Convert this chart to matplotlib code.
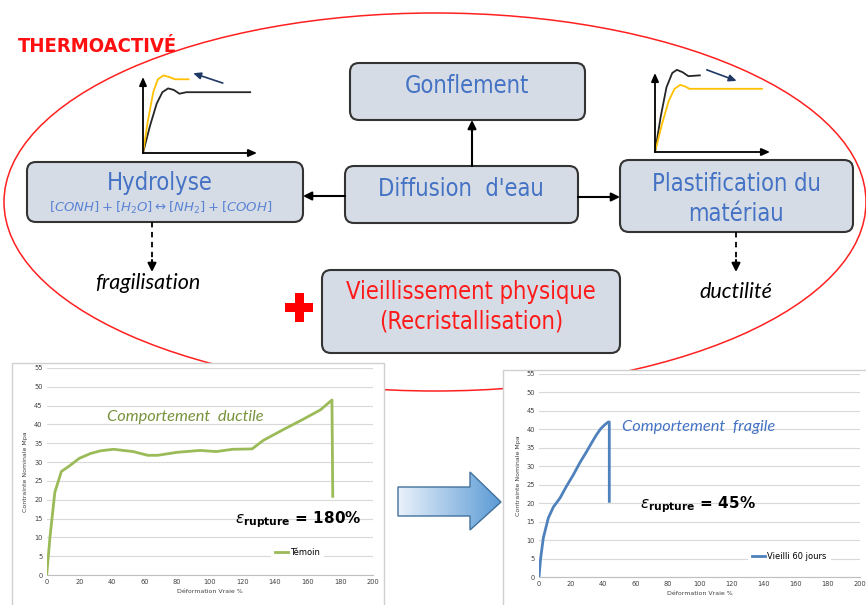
import numpy as np
import matplotlib
matplotlib.use('Agg')
import matplotlib.pyplot as plt
from matplotlib.patches import FancyBboxPatch, Ellipse, Rectangle, Polygon

# ---- data ----
# stress-strain curve, control sample (Témoin)
temoin_strain = [0, 2, 5, 9, 14, 20, 27, 33, 41, 53, 62, 68, 80, 94, 104, 114, 126, 133, 145, 157, 168, 175, 175.5]
temoin_stress = [0, 10, 22, 27.5, 29, 31, 32.3, 33, 33.4, 32.8, 31.8, 31.8, 32.6, 33.1, 32.8, 33.4, 33.5, 35.8, 38.6, 41.3, 43.9, 46.5, 20.9]

# stress-strain curve, aged 60 days
aged_strain = [0, 1, 2.7, 5.8, 9, 13.1, 17, 21.4, 25.5, 29.7, 33, 35.9, 38.5, 41.1, 43.2, 43.8, 43.8]
aged_stress = [0, 5, 10.6, 16, 19, 21.4, 24.5, 27.7, 31, 34, 36.5, 38.6, 40.2, 41.3, 42, 42, 20.5]

x_ticks = list(range(0, 201, 20))
y_ticks = list(range(0, 56, 5))

# schematic sketches (unit coordinates)
hyd_black_x = [0, 0.06, 0.12, 0.17, 0.22, 0.27, 0.32, 0.38, 0.94]
hyd_black_y = [0, 0.35, 0.65, 0.80, 0.85, 0.83, 0.78, 0.80, 0.80]
hyd_yellow_x = [0, 0.04, 0.09, 0.13, 0.18, 0.23, 0.28, 0.40]
hyd_yellow_y = [0, 0.40, 0.80, 0.97, 1.02, 1.00, 0.97, 0.97]
pla_black_x = [0, 0.05, 0.10, 0.15, 0.19, 0.24, 0.29, 0.39]
pla_black_y = [0, 0.45, 0.82, 1.00, 1.04, 1.01, 0.96, 0.97]
pla_yellow_x = [0, 0.06, 0.12, 0.17, 0.22, 0.26, 0.30, 0.93]
pla_yellow_y = [0, 0.35, 0.65, 0.80, 0.85, 0.83, 0.80, 0.80]

plt.rcParams['font.family'] = ['DejaVu Sans']
narrow = dict(family='DejaVu Sans', fontstretch='condensed')

W, H = 866, 605
fig = plt.figure(figsize=(W / 100, H / 100), dpi=100)
fig.patch.set_facecolor('white')

# base axes in pixel coords
ax = fig.add_axes([0, 0, 1, 1])
ax.set_xlim(0, W)
ax.set_ylim(H, 0)
ax.axis('off')

box_fc = '#D6DCE5'
box_ec = '#333333'
blue_txt = '#4472C4'

ax.add_patch(Ellipse((435, 202), 862, 378, fill=False, ec='#FF2020', lw=1.1, zorder=1))
ax.text(18, 46, 'THERMOACTIVÉ', color='#FF1010', fontsize=14.5, fontweight='bold',
        ha='left', va='center', zorder=5, **narrow)


def box(x0, y0, x1, y1):
    ax.add_patch(FancyBboxPatch((x0, y0), x1 - x0, y1 - y0,
                                boxstyle='round,pad=0,rounding_size=9',
                                fc=box_fc, ec=box_ec, lw=1.5, zorder=3))


box(350, 63, 585, 120)
box(345, 166, 578, 223)
box(27, 162, 303, 222)
box(620, 160, 853, 232)
box(322, 270, 620, 353)

big = 17
ax.text(467, 86, 'Gonflement', color=blue_txt, fontsize=big, ha='center', va='center', zorder=4, **narrow)
ax.text(461, 189, 'Diffusion  d\'eau', color=blue_txt, fontsize=big, ha='center', va='center', zorder=4, **narrow)
ax.text(160, 183, 'Hydrolyse', color=blue_txt, fontsize=big, ha='center', va='center', zorder=4, **narrow)
ax.text(161, 208, r'$[CONH]+[H_2O]\leftrightarrow[NH_2]+[COOH]$', color='#5B84D6',
        fontsize=9.5, ha='center', va='center', zorder=4)
ax.text(736, 184, 'Plastification du', color=blue_txt, fontsize=big, ha='center', va='center', zorder=4, **narrow)
ax.text(736, 214, 'matériau', color=blue_txt, fontsize=big, ha='center', va='center', zorder=4, **narrow)
ax.text(471, 292, 'Vieillissement physique', color='#FF1A1A', fontsize=big, ha='center', va='center', zorder=4, **narrow)
ax.text(471, 322, '(Recristallisation)', color='#FF1A1A', fontsize=big, ha='center', va='center', zorder=4, **narrow)

# arrows between boxes
arw = dict(arrowstyle='-|>,head_length=0.5,head_width=0.25', color='black', lw=1.5,
           shrinkA=0, shrinkB=0)
ax.annotate('', xy=(472, 120), xytext=(472, 166), arrowprops=arw, zorder=4)
ax.annotate('', xy=(303, 196), xytext=(345, 196), arrowprops=arw, zorder=4)
ax.annotate('', xy=(620, 197), xytext=(578, 197), arrowprops=arw, zorder=4)

# dashed arrows
ax.plot([152, 152], [222, 262], color='black', lw=1.3, ls=(0, (3, 2.5)), zorder=4)
ax.annotate('', xy=(152, 272), xytext=(152, 260), arrowprops=arw, zorder=4)
ax.plot([736, 736], [232, 262], color='black', lw=1.3, ls=(0, (3, 2.5)), zorder=4)
ax.annotate('', xy=(736, 272), xytext=(736, 260), arrowprops=arw, zorder=4)
ax.text(148, 283, 'fragilisation', fontsize=15.5, style='italic', color='black',
        family=['Lato', 'DejaVu Sans'], ha='center', va='center', zorder=4)
ax.text(736, 292, 'ductilité', fontsize=15.5, style='italic', color='black',
        family=['Lato', 'DejaVu Sans'], ha='center', va='center', zorder=4)

# red plus
ax.add_patch(Rectangle((285, 303), 28, 9, fc='#FF0000', ec='none', zorder=4))
ax.add_patch(Rectangle((294.5, 293), 9, 29, fc='#FF0000', ec='none', zorder=4))


# schematic sketches
def sketch(rect, bx, by, yx, yy, a_from, a_to):
    s = fig.add_axes(rect)
    s.set_xlim(0, 1)
    s.set_ylim(0, 1)
    s.axis('off')
    s.patch.set_alpha(0)
    ak = dict(arrowstyle='-|>,head_length=0.5,head_width=0.22', color='black', lw=1.3,
              shrinkA=0, shrinkB=0)
    s.annotate('', xy=(1.0, 0), xytext=(0, 0), arrowprops=ak, annotation_clip=False)
    s.annotate('', xy=(0, 1.0), xytext=(0, 0), arrowprops=ak, annotation_clip=False)
    s.plot(bx, by, color='#262626', lw=1.3, clip_on=False)
    s.plot(yx, yy, color='#FFC000', lw=1.3, clip_on=False)
    s.annotate('', xy=a_to, xytext=a_from, annotation_clip=False,
               arrowprops=dict(arrowstyle='-|>,head_length=0.45,head_width=0.2',
                               color='#1F3864', lw=1.2, shrinkA=0, shrinkB=0))


sketch([143 / W, 1 - 153 / H, 114 / W, 76 / H], hyd_black_x, hyd_black_y,
       hyd_yellow_x, hyd_yellow_y, (0.70, 0.92), (0.44, 1.05))
sketch([655 / W, 1 - 152 / H, 115 / W, 79 / H], pla_black_x, pla_black_y,
       pla_yellow_x, pla_yellow_y, (0.45, 1.04), (0.71, 0.90))

# chart frames
ax.add_patch(Rectangle((12, 363), 372, 260, fc='white', ec='#D0D0D0', lw=1, zorder=6))
ax.add_patch(Rectangle((503, 370), 380, 260, fc='white', ec='#D0D0D0', lw=1, zorder=6))

# big gradient arrow
arrow_pts = [(398, 487), (470, 487), (470, 472), (501, 502), (470, 530), (470, 516), (398, 516)]
grad = np.linspace(0, 1, 256).reshape(1, -1)
cmap = matplotlib.colors.LinearSegmentedColormap.from_list('g', ['#EAF1FB', '#5B9BD5'])
im = ax.imshow(grad, extent=(398, 501, 530, 472), cmap=cmap, aspect='auto', zorder=7)
poly = Polygon(arrow_pts, closed=True, fc='none', ec='#41719C', lw=1, zorder=8)
ax.add_patch(poly)
im.set_clip_path(poly)
ax.set_xlim(0, W)
ax.set_ylim(H, 0)


def chart(rect, xs, ys, color, label, title, title_xy, title_color, eps, eps_xy, leg_xy):
    c = fig.add_axes(rect)
    c.patch.set_alpha(0)
    c.plot(xs, ys, color=color, lw=2, label=label, zorder=3)
    c.set_xlim(0, 200)
    c.set_ylim(0, 55)
    c.set_xticks(x_ticks)
    c.set_yticks(y_ticks)
    c.grid(axis='y', color='#D9D9D9', lw=0.8)
    c.set_axisbelow(True)
    for sp in ['top', 'right', 'left']:
        c.spines[sp].set_visible(False)
    c.spines['bottom'].set_color('#BFBFBF')
    c.tick_params(length=0, labelsize=4.8, labelcolor='#404040', pad=3)
    c.set_ylabel('Contrainte Nominale Mpa', fontsize=4.5, color='#404040', labelpad=4)
    c.set_xlabel('Déformation Vraie %', fontsize=4.5, color='#404040', labelpad=3)
    c.text(title_xy[0], title_xy[1], title, color=title_color, fontsize=11.8, style='italic',
           family=['Lato', 'DejaVu Sans'], ha='left', va='center')
    c.text(eps_xy[0], eps_xy[1], r'$\varepsilon_{\mathbf{rupture}}$' + eps, fontsize=11,
           color='black', ha='left', va='center', family=['DejaVu Sans'], fontweight='bold')
    leg = c.legend(loc='center', bbox_to_anchor=leg_xy, fontsize=6, frameon=True,
                   handlelength=1.5, handletextpad=0.3, borderpad=0.5)
    leg.get_frame().set_edgecolor('none')
    leg.get_frame().set_facecolor('white')
    leg.get_frame().set_alpha(1)
    return c


chart([46.7 / W, 1 - 575 / H, 326 / W, 207 / H], temoin_strain, temoin_stress, '#9BBB59',
      'Témoin', 'Comportement  ductile', (37, 42), '#77933C', ' = 180%', (115.5, 14.6),
      (0.77, 0.11))
chart([539 / W, 1 - 577 / H, 321 / W, 203 / H], aged_strain, aged_stress, '#4F81BD',
      'Vieilli 60 jours', 'Comportement  fragile', (51.7, 40.6), '#4472C4', ' = 45%', (62.9, 19.5),
      (0.78, 0.10))

fig.savefig('out.png', dpi=100)
